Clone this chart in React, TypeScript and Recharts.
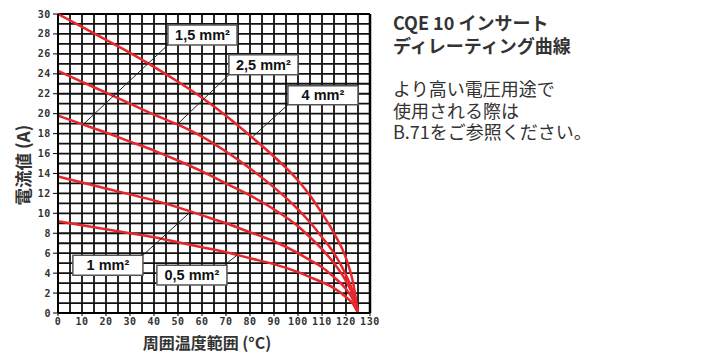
import { LineChart, Line, XAxis, YAxis, CartesianGrid, ReferenceArea, ReferenceLine } from 'recharts';

// temperature (°C) and derated current (A) for each cross-section
const temps = [0, 10, 20, 30, 40, 50, 60, 70, 80, 90, 100, 105, 110, 115, 120, 123, 125];
const mm4 = [30, 28.7, 27.4, 26.1, 24.7, 23.2, 21.6, 19.8, 17.8, 15.7, 13.3, 11.8, 10.0, 8.0, 5.5, 3.0, 0];
const mm25 = [24.3, 23.2, 22.1, 21.0, 19.9, 18.9, 17.7, 16.2, 14.5, 12.6, 10.4, 9.1, 7.6, 6.0, 3.8, 2.0, 0];
const mm15 = [19.8, 18.95, 18.1, 17.2, 16.3, 15.3, 14.2, 13.0, 11.8, 10.4, 8.7, 7.6, 6.4, 5.0, 3.2, 1.7, 0];
const mm1 = [13.7, 13.1, 12.5, 11.9, 11.3, 10.6, 9.8, 9.0, 8.1, 7.2, 6.0, 5.3, 4.6, 3.6, 2.4, 1.3, 0];
const mm05 = [9.2, 8.8, 8.4, 8.0, 7.6, 7.1, 6.6, 6.1, 5.5, 4.9, 4.1, 3.6, 3.1, 2.5, 1.6, 0.9, 0];

const xTicks = [0, 10, 20, 30, 40, 50, 60, 70, 80, 90, 100, 110, 120, 130];
const yTicks = [0, 2, 4, 6, 8, 10, 12, 14, 16, 18, 20, 22, 24, 26, 28, 30];

// label boxes: [text, x1, x2, y1, y2] and leader line [fromX, fromY, toX, toY]
const labels: [string, number, number, number, number][] = [
  ['1,5 mm²', 45.8, 74.6, 26.9, 28.9],
  ['2,5 mm²', 71.2, 100, 23.9, 25.9],
  ['4 mm²', 95.8, 125, 20.9, 22.8],
  ['1 mm²', 6.2, 35.4, 3.8, 5.8],
  ['0,5 mm²', 41.2, 70.4, 2.8, 4.8],
];
const leaders: [number, number, number, number][] = [
  [45.8, 26.9, 10.4, 18.9],
  [71.2, 23.9, 49.6, 18.9],
  [95.8, 20.9, 81.2, 17.7],
  [35.4, 5.8, 55, 10.1],
  [70.4, 5.0, 74.6, 5.8],
];

const data = temps.map((t, i) => ({ t, mm4: mm4[i], mm25: mm25[i], mm15: mm15[i], mm1: mm1[i], mm05: mm05[i] }));

const gridX = Array.from({ length: 27 }, (_, i) => i * 5);
const gridY = Array.from({ length: 31 }, (_, i) => i);

const RED = '#e8272c';
const tickStyle = { fill: '#333', fontSize: 10, fontWeight: 700, fontFamily: 'DejaVu Sans Mono', letterSpacing: 0.6 };
const cjk = '"Noto Sans CJK JP", "Noto Sans", sans-serif';

export default function App() {
  return (
    <div style={{ position: 'absolute', left: 0, top: 0, width: 701, height: 360, background: '#fff' }}>
      <LineChart width={380} height={360} data={data} margin={{ top: 14, right: 10, left: 0, bottom: 0 }}>
        <CartesianGrid stroke="#111" strokeWidth={1.8} verticalValues={gridX} horizontalValues={gridY} />
        <XAxis
          dataKey="t"
          type="number"
          domain={[0, 130]}
          ticks={xTicks}
          interval={0}
          height={47}
          tick={tickStyle}
          tickSize={3}
          axisLine={{ stroke: '#000', strokeWidth: 2 }}
          tickLine={{ stroke: '#000' }}
        />
        <YAxis
          type="number"
          domain={[0, 30]}
          ticks={yTicks}
          interval={0}
          width={58}
          tick={tickStyle}
          tickSize={5}
          axisLine={{ stroke: '#000', strokeWidth: 2 }}
          tickLine={{ stroke: '#000' }}
        />
        <ReferenceLine x={130} stroke="#000" strokeWidth={2.5} />
        <ReferenceLine y={30} stroke="#000" strokeWidth={2} />
        <Line dataKey="mm4" type="monotone" stroke={RED} strokeWidth={2.5} dot={false} isAnimationActive={false} />
        <Line dataKey="mm25" type="monotone" stroke={RED} strokeWidth={2.5} dot={false} isAnimationActive={false} />
        <Line dataKey="mm15" type="monotone" stroke={RED} strokeWidth={2.5} dot={false} isAnimationActive={false} />
        <Line dataKey="mm1" type="monotone" stroke={RED} strokeWidth={2.5} dot={false} isAnimationActive={false} />
        <Line dataKey="mm05" type="monotone" stroke={RED} strokeWidth={2.5} dot={false} isAnimationActive={false} />
        {leaders.map(([x1, y1, x2, y2], i) => (
          <ReferenceLine
            key={'l' + i}
            segment={[{ x: x1, y: y1 }, { x: x2, y: y2 }]}
            stroke="#222"
            strokeWidth={1}
          />
        ))}
        {labels.map(([text, x1, x2, y1, y2]) => (
          <ReferenceArea
            key={text}
            x1={x1}
            x2={x2}
            y1={y1}
            y2={y2}
            fill="#fff"
            fillOpacity={1}
            stroke="#555"
            strokeWidth={1.5}
            ifOverflow="visible"
            label={{
              value: text,
              position: 'center',
              fill: '#111',
              fontSize: 14.5,
              fontWeight: 700,
              fontFamily: 'Liberation Sans, Arial, sans-serif',
            }}
          />
        ))}
      </LineChart>
      <div
        style={{
          position: 'absolute',
          left: 23,
          top: 165,
          transform: 'rotate(-90deg)',
          transformOrigin: '0 0',
          width: 0,
          height: 0,
        }}
      >
        <div
          style={{
            position: 'absolute',
            left: -70,
            top: -12,
            width: 140,
            lineHeight: '24px',
            textAlign: 'center',
            whiteSpace: 'nowrap',
            fontFamily: cjk,
            fontWeight: 700,
            fontSize: 17.5,
            color: '#333',
          }}
        >
          電流値 (A)
        </div>
      </div>
      <div
        style={{
          position: 'absolute',
          left: 107,
          top: 331,
          width: 200,
          lineHeight: '23px',
          textAlign: 'center',
          fontFamily: cjk,
          fontWeight: 700,
          fontSize: 16,
          color: '#333',
          whiteSpace: 'nowrap',
        }}
      >
        周囲温度範囲 (°C)
      </div>
      <div
        style={{
          position: 'absolute',
          left: 393,
          top: 11,
          fontFamily: cjk,
          fontSize: 18,
          lineHeight: '23px',
          color: '#333',
          whiteSpace: 'nowrap',
        }}
      >
        <div style={{ fontWeight: 700 }}>CQE 10 インサート</div>
        <div style={{ fontWeight: 700 }}>ディレーティング曲線</div>
        <div style={{ marginTop: 21, lineHeight: '21.5px' }}>
          <div>より高い電圧用途で</div>
          <div>使用される際は</div>
          <div>B.71をご参照ください。</div>
        </div>
      </div>
    </div>
  );
}
